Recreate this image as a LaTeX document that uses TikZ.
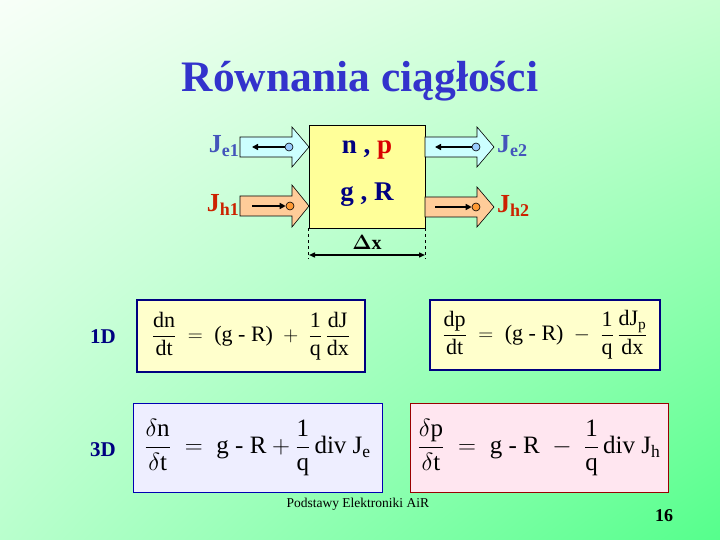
\documentclass[tikz,border=0pt]{standalone}
\usepackage{amsmath}
\usepackage{fontspec}
\setmainfont{Liberation Serif}
\usetikzlibrary{arrows.meta,shadings}

\definecolor{titleblue}{HTML}{3333CC}
\definecolor{eblue}{HTML}{4455BB}
\definecolor{hred}{HTML}{CC2200}
\definecolor{navy}{HTML}{000080}
\definecolor{cellyellow}{HTML}{FFFF99}
\definecolor{boxyellow}{HTML}{FFFFCC}
\definecolor{boxlilac}{HTML}{EEEEFF}
\definecolor{boxpink}{HTML}{FFE6F0}
\definecolor{cyanlt}{HTML}{CCFFFF}
\definecolor{peach}{HTML}{FFCC99}
\definecolor{dotblue}{HTML}{99CCFF}
\definecolor{dotorange}{HTML}{FF9933}
\definecolor{bgul}{HTML}{F8FFF8}
\definecolor{bgur}{HTML}{C8FFD2}
\definecolor{bgll}{HTML}{B9FFCD}
\definecolor{bglr}{HTML}{55FF8C}

\tikzset{
  flux/.style={draw=black, line width=0.6pt},
  dot/.style={circle, draw=black, line width=0.6pt, inner sep=0pt, minimum size=8pt},
  flow/.style={line width=1.6pt, -{Triangle[length=6pt,width=6pt]}},
  eqbox/.style={draw, inner sep=0pt, font=\fontsize{22}{26}\selectfont},
  dimlabel/.style={font=\fontsize{21}{24}\selectfont\bfseries, text=navy}
}

\begin{document}
\begin{tikzpicture}[x=1pt, y=-1pt]
  % background
  \shade[upper left=bgul, upper right=bgur, lower left=bgll, lower right=bglr] (0,0) rectangle (720,540);
  \useasboundingbox (0,0) rectangle (720,540);

  \node[text=titleblue, font=\fontsize{43.5}{48}\selectfont\bfseries] (title) at (360,81) {Równania ciągłości};

  % cell
  \node[draw, line width=0.6pt, fill=cellyellow, minimum width=116pt, minimum height=103pt] (cell) at (367,176.5) {};
  \node[font=\fontsize{27}{30}\selectfont\bfseries] (np) at (367,150) {\textcolor{navy}{n} \textcolor{navy}{,} \textcolor{red!85!black}{p}};
  \node[font=\fontsize{27}{30}\selectfont\bfseries, text=navy] (gr) at (367,195) {g , R};

  % flux arrows
  \draw[flux, fill=cyanlt] (240,137) -- (292,137) -- (292,127) -- (309,147) -- (292,167) -- (292,157) -- (240,157) -- cycle;
  \draw[flux, fill=peach] (240,196) -- (292,196) -- (292,185) -- (309,206) -- (292,227) -- (292,216) -- (240,216) -- cycle;
  \draw[flux, fill=cyanlt] (425,137) -- (477,137) -- (477,127) -- (494,147) -- (477,167) -- (477,157) -- (425,157) -- cycle;
  \draw[flux, fill=peach] (425,197) -- (477,197) -- (477,187) -- (494,207) -- (477,227) -- (477,217) -- (425,217) -- cycle;

  \node[dot, fill=dotblue] (ce1) at (289,147) {};
  \coordinate (te1) at (252,147);
  \draw[flow] (ce1) -- (te1);
  \node[dot, fill=dotorange] (ch1) at (290,206) {};
  \coordinate (sh1) at (252,206);
  \draw[flow] (sh1) -- (ch1);
  \node[dot, fill=dotblue] (ce2) at (476,147) {};
  \coordinate (te2) at (435,147);
  \draw[flow] (ce2) -- (te2);
  \node[dot, fill=dotorange] (ch2) at (476,207) {};
  \coordinate (sh2) at (435,207);
  \draw[flow] (sh2) -- (ch2);

  \node[anchor=east, inner sep=1pt, text=eblue, font=\fontsize{26}{28}\selectfont\bfseries] (je1) at (240,146) {J\raisebox{-0.35ex}{\fontsize{18}{20}\selectfont e1}};
  \node[anchor=east, inner sep=1pt, text=hred, font=\fontsize{26}{28}\selectfont\bfseries] (jh1) at (240,205) {J\raisebox{-0.35ex}{\fontsize{18}{20}\selectfont h1}};
  \node[anchor=west, inner sep=1pt, text=eblue, font=\fontsize{26}{28}\selectfont\bfseries] (je2) at (496,146) {J\raisebox{-0.35ex}{\fontsize{18}{20}\selectfont e2}};
  \node[anchor=west, inner sep=1pt, text=hred, font=\fontsize{26}{28}\selectfont\bfseries] (jh2) at (496,206) {J\raisebox{-0.35ex}{\fontsize{18}{20}\selectfont h2}};

  % width of the cell
  \coordinate (dl) at (309,255);
  \coordinate (dr) at (425,255);
  \draw[dashed, line width=0.6pt] (cell.south west) -- ++(0,31);
  \draw[dashed, line width=0.6pt] (cell.south east) -- ++(0,31);
  \draw[line width=1.4pt, {Triangle[length=6pt,width=5pt]}-{Triangle[length=6pt,width=5pt]}] (dl) -- (dr);
  \node[font=\fontsize{20}{24}\selectfont\bfseries] (dx) at (367,242) {$\boldsymbol{\Delta}$x};

  % 1D
  \node[dimlabel] (l1) at (103,337) {1D};
  \node[eqbox, draw=navy, line width=2.6pt, fill=boxyellow, minimum width=228pt, minimum height=72pt] (b1) at (251,336)
    {$\dfrac{\text{dn}}{\text{dt}} \;=\; \text{(g - R)} \;+\; \dfrac{\text{1}}{\text{q}}\,\dfrac{\text{dJ}}{\text{dx}}$};
  \node[eqbox, draw=navy, line width=2.6pt, fill=boxyellow, minimum width=230pt, minimum height=70pt] (b2) at (545,335)
    {$\dfrac{\text{dp}}{\text{dt}} \;=\; \text{(g - R)} \;-\; \dfrac{\text{1}}{\text{q}}\,\dfrac{\text{dJ}_{\text{p}}}{\text{dx}}$};

  % 3D
  \node[dimlabel] (l3) at (103,450) {3D};
  \node[eqbox, draw=blue!70!black, line width=0.6pt, fill=boxlilac, minimum width=249pt, minimum height=89pt,
        font=\fontsize{25}{28}\selectfont] (b3) at (257.5,447.5)
    {$\dfrac{\delta\text{n}}{\delta\text{t}} \;=\; \text{g - R} + \dfrac{\text{1}}{\text{q}}\,\text{div J}_{\text{e}}$};
  \node[eqbox, draw=red!60!black, line width=0.6pt, fill=boxpink, minimum width=258pt, minimum height=89pt,
        font=\fontsize{25}{28}\selectfont] (b4) at (539,447.5)
    {$\dfrac{\delta\text{p}}{\delta\text{t}} \;=\; \text{g - R} \;-\; \dfrac{\text{1}}{\text{q}}\,\text{div J}_{\text{h}}$};

  % footer
  \node[anchor=west, font=\fontsize{13.5}{15}\selectfont] (foot) at (283,504) {Podstawy Elektroniki AiR};
  \node[font=\fontsize{18}{20}\selectfont\bfseries] (page) at (664,516) {16};
\end{tikzpicture}
\end{document}
